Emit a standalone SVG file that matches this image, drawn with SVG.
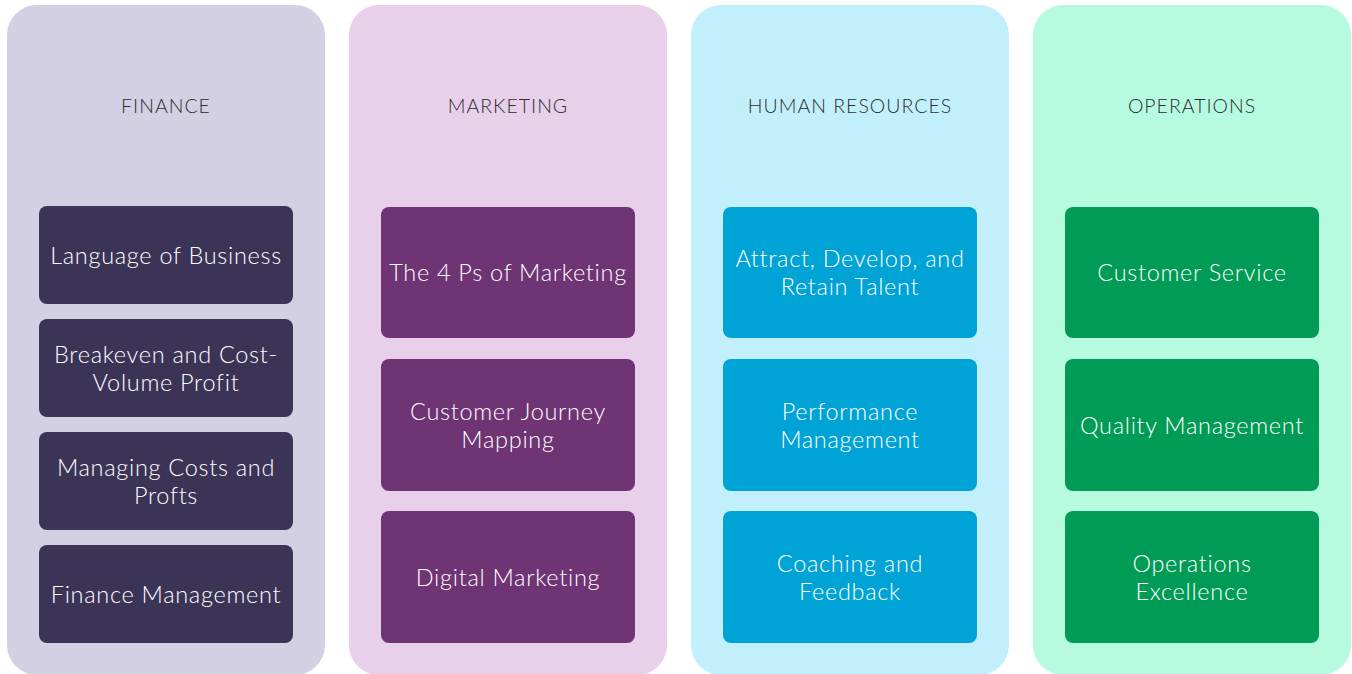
<svg xmlns="http://www.w3.org/2000/svg" width="1352" height="674" viewBox="0 0 1352 674">
<style>
.col{stroke:none}
.box{stroke:none}
.hd{font-family:Lato,"Liberation Sans",sans-serif;font-weight:300;font-size:19.5px;letter-spacing:1px;fill:#2e2e2e;text-anchor:middle;dominant-baseline:central}
.t{font-family:Lato,"Liberation Sans",sans-serif;font-weight:300;font-size:23.5px;letter-spacing:0.7px;fill:#ffffff;text-anchor:middle;dominant-baseline:central}
</style>
<rect width="1352" height="674" fill="#ffffff"/>
<g id="finance">
<rect class="col" x="7" y="5" width="318" height="670" rx="30" fill="#D3D0E3"/>
<text class="hd" x="166" y="105">FINANCE</text>
</g>
<g id="marketing">
<rect class="col" x="349" y="5" width="318" height="670" rx="30" fill="#E8D0EA"/>
<text class="hd" x="508" y="105">MARKETING</text>
</g>
<g id="hr">
<rect class="col" x="691" y="5" width="318" height="670" rx="30" fill="#C1F0FC"/>
<text class="hd" x="850" y="105">HUMAN RESOURCES</text>
</g>
<g id="operations">
<rect class="col" x="1033" y="5" width="318" height="670" rx="30" fill="#B6FADF"/>
<text class="hd" x="1192" y="105">OPERATIONS</text>
</g>
<g id="f1"><rect class="box" x="39" y="206" width="254" height="98" rx="8" fill="#3B3457"/><text class="t" x="166" y="255">Language of Business</text></g>
<g id="f2"><rect class="box" x="39" y="319" width="254" height="98" rx="8" fill="#3B3457"/><text class="t" x="166" y="354">Breakeven and Cost-</text><text class="t" x="166" y="382">Volume Profit</text></g>
<g id="f3"><rect class="box" x="39" y="432" width="254" height="98" rx="8" fill="#3B3457"/><text class="t" x="166" y="467">Managing Costs and</text><text class="t" x="166" y="495">Profts</text></g>
<g id="f4"><rect class="box" x="39" y="545" width="254" height="98" rx="8" fill="#3B3457"/><text class="t" x="166" y="594">Finance Management</text></g>
<g id="m1"><rect class="box" x="381" y="207" width="254" height="131" rx="8" fill="#6E3474"/><text class="t" x="508" y="272">The 4 Ps of Marketing</text></g>
<g id="m2"><rect class="box" x="381" y="359" width="254" height="132" rx="8" fill="#6E3474"/><text class="t" x="508" y="411">Customer Journey</text><text class="t" x="508" y="439">Mapping</text></g>
<g id="m3"><rect class="box" x="381" y="511" width="254" height="132" rx="8" fill="#6E3474"/><text class="t" x="508" y="577">Digital Marketing</text></g>
<g id="h1"><rect class="box" x="723" y="207" width="254" height="131" rx="8" fill="#00A3D5"/><text class="t" x="850" y="258">Attract, Develop, and</text><text class="t" x="850" y="286">Retain Talent</text></g>
<g id="h2"><rect class="box" x="723" y="359" width="254" height="132" rx="8" fill="#00A3D5"/><text class="t" x="850" y="411">Performance</text><text class="t" x="850" y="439">Management</text></g>
<g id="h3"><rect class="box" x="723" y="511" width="254" height="132" rx="8" fill="#00A3D5"/><text class="t" x="850" y="563">Coaching and</text><text class="t" x="850" y="591">Feedback</text></g>
<g id="o1"><rect class="box" x="1065" y="207" width="254" height="131" rx="8" fill="#009B55"/><text class="t" x="1192" y="272">Customer Service</text></g>
<g id="o2"><rect class="box" x="1065" y="359" width="254" height="132" rx="8" fill="#009B55"/><text class="t" x="1192" y="425">Quality Management</text></g>
<g id="o3"><rect class="box" x="1065" y="511" width="254" height="132" rx="8" fill="#009B55"/><text class="t" x="1192" y="563">Operations</text><text class="t" x="1192" y="591">Excellence</text></g>
<g id="connectors"/>
</svg>
